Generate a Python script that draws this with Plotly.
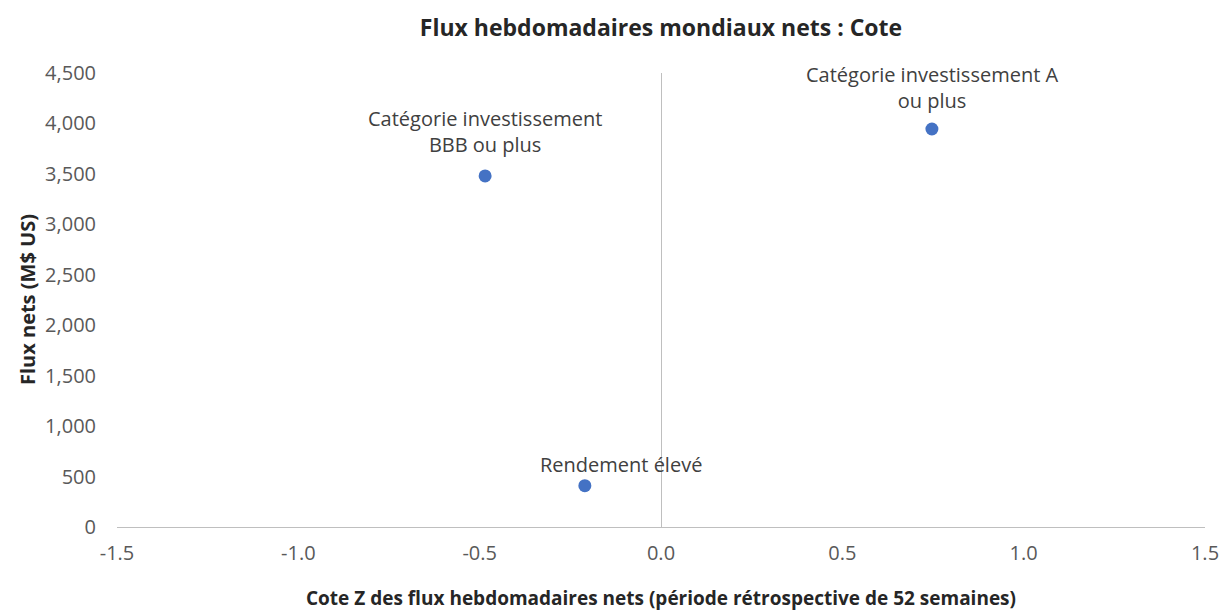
import plotly.graph_objects as go

labels = ["Catégorie investissement<br>BBB ou plus",
          "Catégorie investissement A<br>ou plus",
          "Rendement élevé"]
z_scores = [-0.485, 0.747, -0.21]
flows = [3480, 3945, 410]
label_xshift = [0, 0, 36]
label_yshift = [16, 13, 6]

x_ticks = [-1.5, -1.0, -0.5, 0.0, 0.5, 1.0, 1.5]
y_ticks = [0, 500, 1000, 1500, 2000, 2500, 3000, 3500, 4000, 4500]

FONT = "Open Sans"
GREY = "#595959"
DARK = "#262626"

W, H = 1223, 611

fig = go.Figure()
fig.add_trace(go.Scatter(
    x=z_scores, y=flows, mode="markers",
    marker=dict(size=13, color="#4472C4"),
    hoverinfo="skip", showlegend=False))

for lab, xv, yv, xs, ys in zip(labels, z_scores, flows, label_xshift, label_yshift):
    fig.add_annotation(x=xv, y=yv, text=lab, showarrow=False,
                       xanchor="center", yanchor="bottom", yshift=ys, xshift=xs,
                       font=dict(family=FONT, size=20, color="#404040"))

# axis titles as paper annotations
fig.add_annotation(text="<b>Cote Z des flux hebdomadaires nets (période rétrospective de 52 semaines)</b>",
                   xref="paper", yref="paper", x=0.5, y=0, xanchor="center", yanchor="middle",
                   yshift=-71, showarrow=False,
                   font=dict(family=FONT, size=19, color=DARK))
fig.add_annotation(text="<b>Flux nets (M$ US)</b>",
                   xref="paper", yref="paper", x=0, y=0.5, xanchor="center", yanchor="middle",
                   xshift=-90, textangle=-90, showarrow=False,
                   font=dict(family=FONT, size=20, color=DARK))

fig.update_layout(
    width=W, height=H,
    paper_bgcolor="white", plot_bgcolor="white",
    margin=dict(l=117, r=18, t=73, b=84, autoexpand=False),
    title=dict(text="<b>Flux hebdomadaires mondiaux nets : Cote</b>",
               x=0.5, xanchor="center", xref="paper", y=1 - 28 / H, yanchor="middle",
               font=dict(family=FONT, size=23, color=DARK)),
    xaxis=dict(range=[-1.5, 1.5], tickvals=x_ticks, automargin=False,
               ticktext=[f"{v:.1f}" for v in x_ticks],
               showgrid=False, showline=False, zeroline=True,
               zerolinecolor="#BFBFBF", zerolinewidth=1.3,
               ticks="", ticklabelstandoff=12,
               tickfont=dict(family=FONT, size=20, color=GREY)),
    yaxis=dict(range=[0, 4500], tickvals=y_ticks, automargin=False,
               ticktext=[f"{v:,}" for v in y_ticks],
               showgrid=False, showline=False, zeroline=True,
               zerolinecolor="#BFBFBF", zerolinewidth=1.3,
               ticks="", ticklabelstandoff=20,
               tickfont=dict(family=FONT, size=20, color=GREY)),
)

fig.write_html("out.html", config={"displayModeBar": False},
               post_script="document.body.style.margin='0';document.body.style.overflow='hidden';")
